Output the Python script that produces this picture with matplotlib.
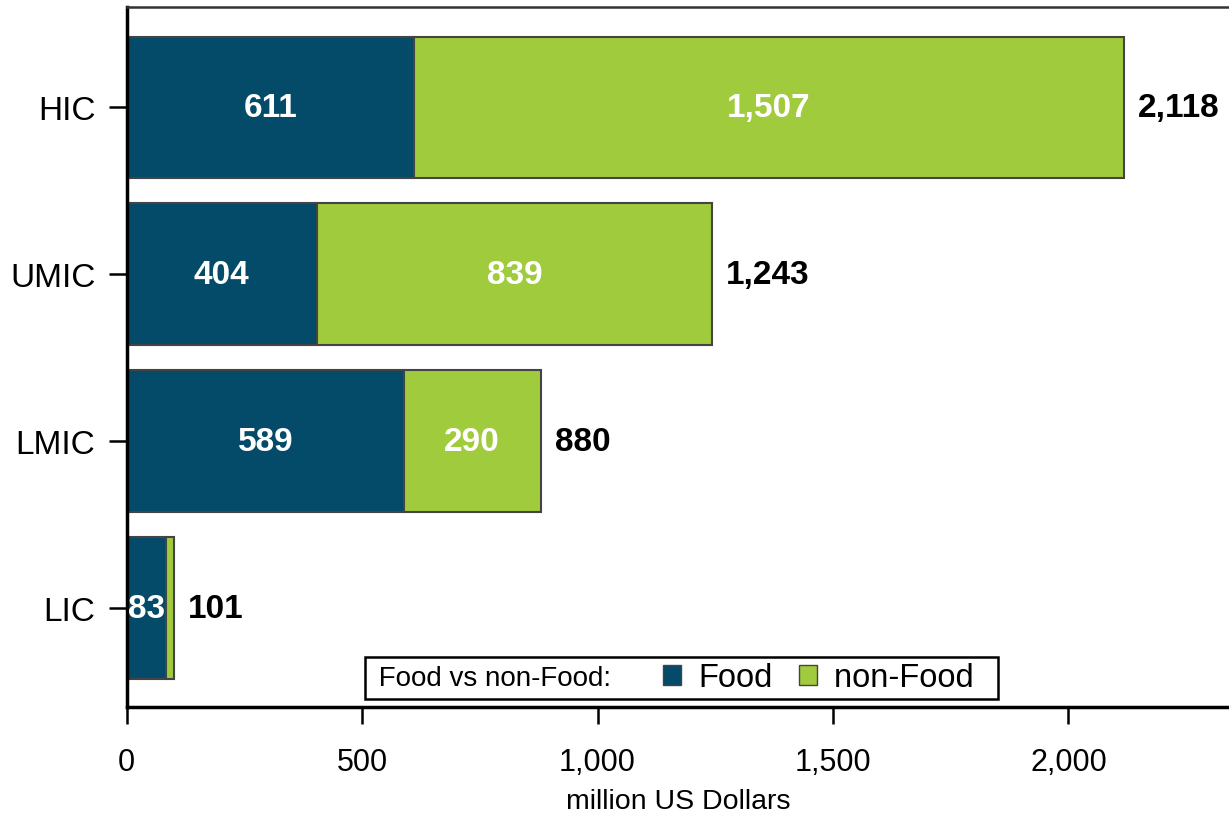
import matplotlib
matplotlib.use("Agg")
import matplotlib.pyplot as plt
from matplotlib.patches import Patch
from matplotlib.offsetbox import HPacker

plt.rcParams['font.family'] = ['Liberation Sans', 'DejaVu Sans']

categories = ["LIC", "LMIC", "UMIC", "HIC"]
food = [83, 589, 404, 611]
nonfood = [18, 290, 839, 1507]
food_labels = ["83", "589", "404", "611"]
nonfood_labels = ["", "290", "839", "1,507"]
totals = [101, 880, 1243, 2118]
total_labels = ["101", "880", "1,243", "2,118"]
xticks = [0, 500, 1000, 1500, 2000]
xticklabels = ["0", "500", "1,000", "1,500", "2,000"]

food_color = "#034B68"
nonfood_color = "#A0CB3C"
edge = "#444444"

fig = plt.figure(figsize=(12.29, 8.29), dpi=100)
ax = fig.add_axes([0.1030, 0.146, 0.897, 0.844])

y = list(range(len(categories)))
h = 0.85
ax.barh(y, food, height=h, color=food_color, edgecolor=edge, linewidth=1.5, label="Food")
ax.barh(y, nonfood, left=food, height=h, color=nonfood_color, edgecolor=edge, linewidth=1.5, label="non-Food")

for i in y:
    ax.text(food[i] / 2, i, food_labels[i], ha="center", va="center", color="white",
            fontsize=24, fontweight="bold")
    if nonfood_labels[i]:
        ax.text(food[i] + nonfood[i] / 2, i, nonfood_labels[i], ha="center", va="center",
                color="white", fontsize=24, fontweight="bold")
    ax.text(totals[i] + 30, i, total_labels[i], ha="left", va="center", color="black",
            fontsize=24, fontweight="bold")

ax.set_xlim(0, 2341)
ax.set_ylim(-0.59, 3.6)
ax.set_yticks(y)
ax.set_yticklabels(categories, fontsize=24)
ax.set_xticks(xticks)
ax.set_xticklabels(xticklabels, fontsize=22)
ax.tick_params(axis="y", length=13, width=1.8, pad=9.5)
ax.tick_params(axis="x", length=12, width=1.8, pad=16.5)
ax.set_xlabel("million US Dollars", fontsize=20.5, labelpad=8)

for s in ["left", "bottom"]:
    ax.spines[s].set_linewidth(2.5)
    ax.spines[s].set_color("black")
ax.spines["top"].set_linewidth(1.8)
ax.spines["top"].set_color("#333333")
ax.spines["right"].set_visible(False)

handles = [Patch(facecolor=food_color, edgecolor=edge, linewidth=1),
           Patch(facecolor=nonfood_color, edgecolor=edge, linewidth=1)]
labels = ["Food", "non-Food  "]
leg = ax.legend(handles, labels, ncol=2, fontsize=23.5, loc="lower left",
                title=" Food vs non-Food:", title_fontsize=20,
                bbox_to_anchor=(0.2165, 0.0114), borderaxespad=0, frameon=True,
                fancybox=False, edgecolor="black", handlelength=0.55,
                handleheight=0.55, handletextpad=0.52, columnspacing=0.83,
                borderpad=0.17, labelspacing=1.6, framealpha=1)
leg.get_frame().set_linewidth(1.8)
# place the title inline, to the left of the entries
leg._legend_box.__class__ = HPacker

fig.savefig("out.png", dpi=100)
